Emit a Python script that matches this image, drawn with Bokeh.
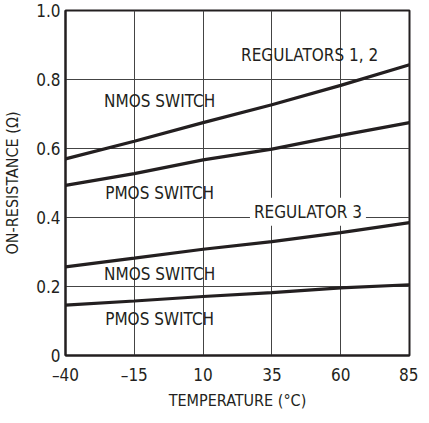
from bokeh.plotting import figure
from bokeh.models import FixedTicker, Range1d, Label
from bokeh.embed import file_html
from bokeh.resources import INLINE

# ---- data ----
temps = [-40, -15, 10, 35, 60, 85]
reg12_nmos = [0.570, 0.621, 0.675, 0.727, 0.783, 0.843]
reg12_pmos = [0.493, 0.527, 0.567, 0.598, 0.638, 0.675]
reg3_nmos = [0.257, 0.282, 0.308, 0.330, 0.356, 0.385]
reg3_pmos = [0.146, 0.158, 0.171, 0.182, 0.196, 0.205]

x_ticks = [-40, -15, 10, 35, 60, 85]
x_tick_labels = ["–40", "–15", "10", "35", "60", "85"]
y_ticks = [0, 0.2, 0.4, 0.6, 0.8, 1.0]
y_tick_labels = ["0", "0.2", "0.4", "0.6", "0.8", "1.0"]

label_texts = ["REGULATORS 1, 2", "NMOS SWITCH", "PMOS SWITCH",
               "REGULATOR 3", "NMOS SWITCH", "PMOS SWITCH"]
label_x = [48.7, -5.8, -5.8, 48.1, -5.8, -5.8]
label_y = [0.872, 0.738, 0.472, 0.417, 0.235, 0.107]

FONT = "'DejaVu Sans Condensed', Roboto, sans-serif"
INK = "#231f20"

p = figure(frame_width=344, frame_height=345, output_backend="svg", toolbar_location=None,
           x_range=Range1d(-40, 85), y_range=Range1d(0, 1.0),
           min_border_left=60, min_border_right=9, min_border_top=10,
           min_border_bottom=52)

for series in (reg12_nmos, reg12_pmos, reg3_nmos, reg3_pmos):
    p.line(temps, series, line_color=INK, line_width=3.2)

for t, lx, ly in zip(label_texts, label_x, label_y):
    bg = "white" if t == "REGULATOR 3" else None
    lab = Label(x=lx, y=ly, text=t, text_align="center", text_baseline="middle",
                text_font=FONT, text_font_size="17px", text_color=INK,
                background_fill_color=bg, padding=4)
    p.add_layout(lab)

p.xaxis.ticker = FixedTicker(ticks=x_ticks)
p.yaxis.ticker = FixedTicker(ticks=y_ticks)
p.xaxis.major_label_overrides = dict(zip(x_ticks, x_tick_labels))
p.yaxis.major_label_overrides = dict(zip(y_ticks, y_tick_labels))

p.xaxis.axis_label = "TEMPERATURE (°C)"
p.yaxis.axis_label = "ON-RESISTANCE (Ω)"

for ax in (p.xaxis, p.yaxis):
    ax.major_tick_in = 0
    ax.major_tick_out = 0
    ax.minor_tick_in = 0
    ax.minor_tick_out = 0
    ax.axis_line_color = INK
    ax.axis_line_width = 2
    ax.major_label_text_font = FONT
    ax.major_label_text_font_size = "17px"
    ax.major_label_text_color = INK
    ax.axis_label_text_font = FONT
    ax.axis_label_text_font_size = "16px"
    ax.axis_label_text_font_style = "normal"
    ax.axis_label_text_color = INK

p.xaxis.major_label_standoff = 9
p.yaxis.major_label_standoff = 5
p.xaxis.axis_label_standoff = 3
p.yaxis.axis_label_standoff = 11

p.grid.grid_line_color = "#444444"
p.grid.grid_line_width = 1
p.grid.grid_line_alpha = 1.0

p.outline_line_color = INK
p.outline_line_width = 2
p.background_fill_color = "white"
p.border_fill_color = "white"

open("out.html", "w").write(file_html(p, INLINE))
